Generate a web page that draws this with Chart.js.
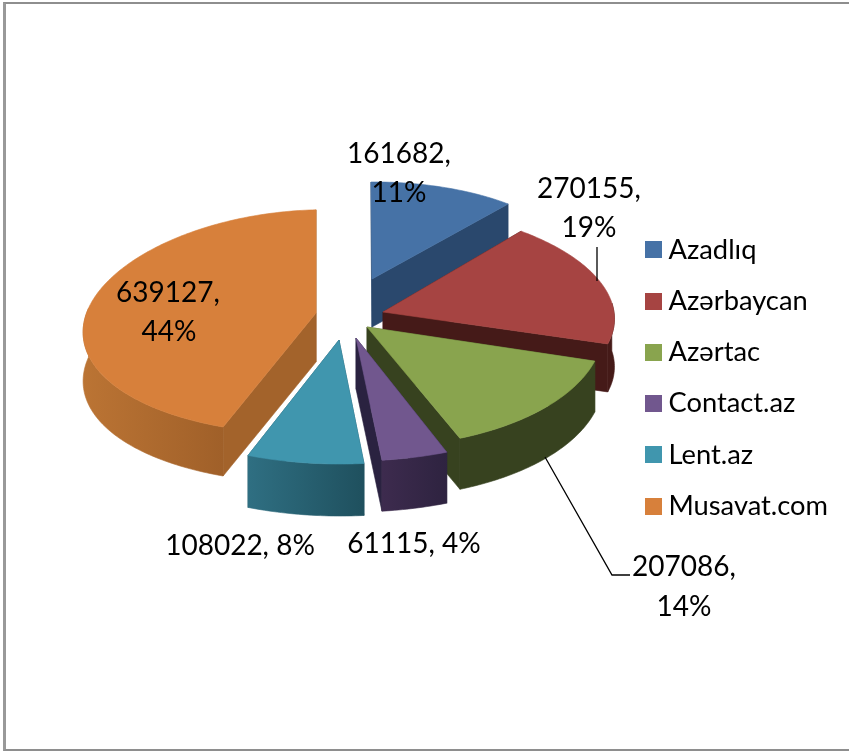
<!DOCTYPE html>
<html>
<head>
<meta charset="utf-8">
<title>Chart</title>
<script src="https://cdn.jsdelivr.net/npm/chart.js@4"></script>
<style>
    html, body { margin: 0; padding: 0; background: #fff; overflow: hidden; }
    #chart { position: absolute; left: 0; top: 0; }
    #frame { position: absolute; left: 3px; top: 2px; width: 846px; height: 749px; box-sizing: border-box;
             border: 2px solid #8e8e8e; border-left-width: 3px; border-left-color: #999; border-right: none; pointer-events: none; }
</style>
</head>
<body>
<canvas id="chart" width="849" height="751"></canvas>
<div id="frame"></div>
<script>
// data
const categories = ['Azadlıq', 'Azərbaycan', 'Azərtac', 'Contact.az', 'Lent.az', 'Musavat.com'];
const values = [161682, 270155, 207086, 61115, 108022, 639127];
const percents = [11, 19, 14, 4, 8, 44];

// colours
const topColors = ['#4672a6', '#a64442', '#89a44e', '#71578e', '#4096ae', '#d7803b'];
const faceColors = ['#2a486d', '#451a18', '#37421f', '#2a2240', '#1f505e', '#a3632b'];
const rimColors = [
    ['#2a486d', '#2a486d'], ['#451a18', '#451a18'], ['#37421f', '#37421f'],
    ['#3d2b4e', '#2e2340'], ['#2f6f82', '#1f505e'], ['#bb7434', '#a06029']
];

// per slice view of the exploded 3D pie (apex, axes, perspective, depth)
const sliceViews = [
    { ax: 372, ay: 279, a: 212, b: -1.5, c: 1, d: 97, e: 0, f: 0, depth: 48 },
    { ax: 383, ay: 312, a: 231, b: 0.2, c: 14.5, d: 106, e: 0, f: 0, depth: 48 },
    { ax: 367, ay: 327, a: 236, b: -1.9, c: 8.7, d: 120, e: 0, f: 0, depth: 51 },
    { ax: 356, ay: 338, a: 252, b: -1.7, c: 0.2, d: 123, e: 0, f: 0, depth: 51 },
    { ax: 339, ay: 340, a: 252, b: 0.9, c: -0.7, d: 124, e: 0, f: 0, depth: 52 },
    { ax: 316, ay: 313, a: 231, b: -5, c: 0, d: 112, e: 30, f: 8.8, depth: 49 }
];
const drawOrder = [0, 1, 5, 2, 3, 4];

// label layout: one entry per slice, lines are [centre x, baseline y]
const labelSpots = [
    [[399, 163], [399, 202]],
    [[589, 198], [589, 237]],
    [[684, 576], [684, 616]],
    [[414, 553]],
    [[240, 555]],
    [[168, 302], [169, 341]]
];
const leaderLines = [
    [[597, 247], [597, 281]],
    [[545, 457], [612, 575], [630, 575]]
];

const fontName = 'Lato, "Open Sans", sans-serif';

function project(view, theta, drop) {
    const u = Math.sin(theta), v = -Math.cos(theta);
    return {
        x: view.ax + u * (view.a + view.e * v) + view.c * v,
        y: view.ay + view.b * u + v * (view.d + view.f * v) + drop
    };
}

function sampleRim(view, from, to, drop) {
    const pts = [];
    const steps = Math.max(2, Math.ceil((to - from) / (Math.PI / 180)));
    for (let i = 0; i <= steps; i++) {
        pts.push(project(view, from + (to - from) * i / steps, drop));
    }
    return pts;
}

function fillPoly(ctx, pts, color) {
    ctx.beginPath();
    pts.forEach((p, i) => i ? ctx.lineTo(p.x, p.y) : ctx.moveTo(p.x, p.y));
    ctx.closePath();
    ctx.fillStyle = color;
    ctx.fill();
    // hide the seams between neighbouring faces
    ctx.strokeStyle = color;
    ctx.lineWidth = 0.6;
    ctx.stroke();
}

function drawSlice(ctx, arc, i) {
    const view = sliceViews[i];
    const start = arc.startAngle + Math.PI / 2;
    const end = arc.endAngle + Math.PI / 2;
    const apex = { x: view.ax, y: view.ay };
    const apexLow = { x: view.ax, y: view.ay + view.depth };

    // cut faces
    [start, end].forEach(theta => {
        const p = project(view, theta, 0), q = project(view, theta, view.depth);
        fillPoly(ctx, [apex, p, q, apexLow], faceColors[i]);
    });

    // outer rim, front part only
    const from = Math.max(start, Math.PI * 85 / 180);
    const to = Math.min(end, Math.PI * 275 / 180);
    if (to > from) {
        const upper = sampleRim(view, from, to, 0);
        const lower = sampleRim(view, from, to, view.depth).reverse();
        const xs = upper.map(p => p.x);
        const grad = ctx.createLinearGradient(Math.min(...xs), 0, Math.max(...xs), 0);
        grad.addColorStop(0, rimColors[i][0]);
        grad.addColorStop(1, rimColors[i][1]);
        fillPoly(ctx, upper.concat(lower), grad);
    }

    // top face
    fillPoly(ctx, [apex].concat(sampleRim(view, start, end, 0)), topColors[i]);
}

const pie3dPlugin = {
    id: 'pie3d',
    beforeDatasetDraw(chart, args) {
        const ctx = chart.ctx;
        const arcs = chart.getDatasetMeta(args.index).data;
        ctx.save();
        drawOrder.forEach(i => drawSlice(ctx, arcs[i], i));
        ctx.restore();
        return false;
    },
    afterDatasetsDraw(chart) {
        const ctx = chart.ctx;
        ctx.save();
        ctx.strokeStyle = '#000';
        ctx.lineWidth = 1.3;
        leaderLines.forEach(line => {
            ctx.beginPath();
            line.forEach((p, i) => i ? ctx.lineTo(p[0], p[1]) : ctx.moveTo(p[0], p[1]));
            ctx.stroke();
        });
        ctx.fillStyle = '#000';
        ctx.font = '28px ' + fontName;
        ctx.textAlign = 'center';
        ctx.textBaseline = 'alphabetic';
        labelSpots.forEach((spots, i) => {
            const texts = spots.length === 2
                ? [values[i] + ',', percents[i] + '%']
                : [values[i] + ', ' + percents[i] + '%'];
            spots.forEach((s, k) => ctx.fillText(texts[k], s[0], s[1]));
        });
        ctx.restore();
    }
};

// legend swatches, wider than the label gap chart.js leaves for a box
const swatches = topColors.map(color => {
    const c = document.createElement('canvas');
    c.width = 17;
    c.height = 17;
    const g = c.getContext('2d');
    g.fillStyle = color;
    g.fillRect(0, 0, 17, 17);
    return c;
});

new Chart(document.getElementById('chart'), {
    type: 'pie',
    data: {
        labels: categories,
        datasets: [{ data: values, backgroundColor: topColors, borderWidth: 0 }]
    },
    options: {
        responsive: false,
        animation: false,
        layout: { padding: { right: 11, top: 5 } },
        plugins: {
            tooltip: { enabled: false },
            legend: {
                position: 'right',
                labels: {
                    usePointStyle: true,
                    pointStyleWidth: 3,
                    color: '#000',
                    font: { family: fontName, size: 27.3 },
                    padding: 24,
                    generateLabels(chart) {
                        return Chart.overrides.pie.plugins.legend.labels.generateLabels(chart)
                            .map((item, i) => Object.assign(item, { pointStyle: swatches[i] }));
                    }
                }
            }
        }
    },
    plugins: [pie3dPlugin]
});
</script>
</body>
</html>
